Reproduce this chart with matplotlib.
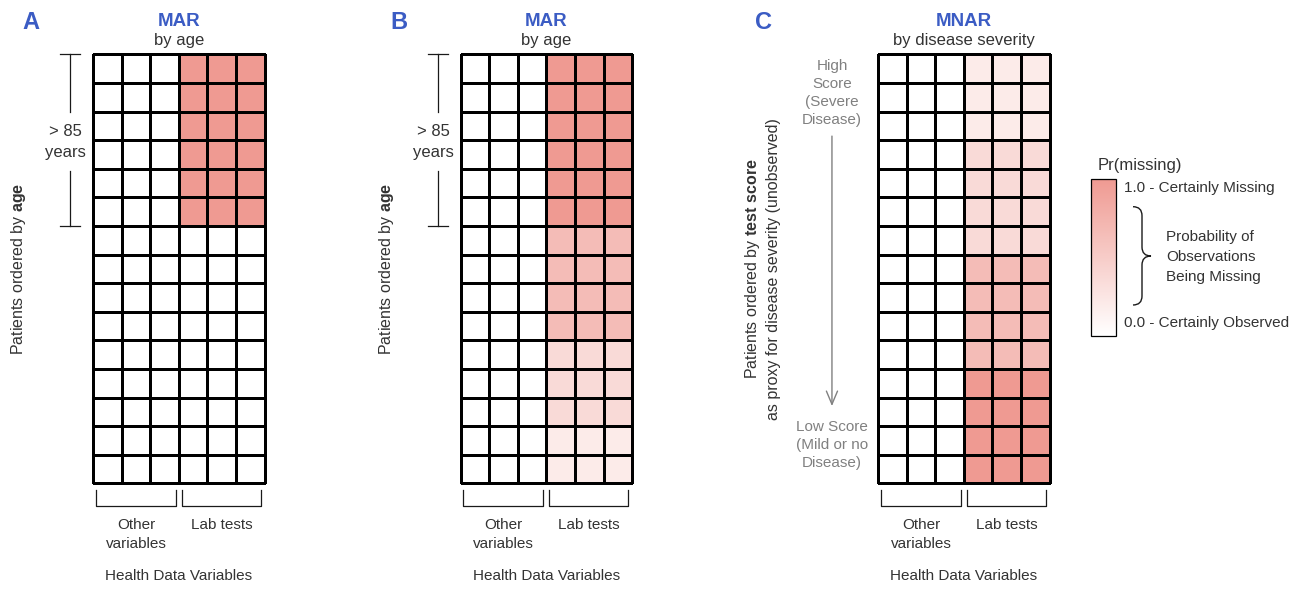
import numpy as np
import matplotlib
matplotlib.use("Agg")
import matplotlib.pyplot as plt
from matplotlib.colors import LinearSegmentedColormap, Normalize
from matplotlib.cm import ScalarMappable
from matplotlib.path import Path
from matplotlib.patches import PathPatch

# Pr(missing) of the lab-test columns, one value per patient row (top -> bottom)
pr_age_step = [1, 1, 1, 1, 1, 1, 0, 0, 0, 0, 0, 0, 0, 0, 0]
pr_age_graded = [1, 1, 1, 1, 1, 1, 0.66, 0.66, 0.66, 0.66, 0.37, 0.37, 0.37, 0.2, 0.2]
pr_severity = [0.2, 0.2, 0.2, 0.37, 0.37, 0.37, 0.37, 0.66, 0.66, 0.66, 0.66, 1, 1, 1, 1]
n_other = 3
n_lab = 3

panel_letters = ["A", "B", "C"]
panel_titles = ["MAR", "MAR", "MNAR"]
panel_subtitles = ["by age", "by age", "by disease severity"]
group_labels = ["Other\nvariables", "Lab tests"]
x_label = "Health Data Variables"
legend_title = "Pr(missing)"
legend_top = "1.0 - Certainly Missing"
legend_bottom = "0.0 - Certainly Observed"
legend_brace = "Probability of\nObservations\nBeing Missing"

plt.rcParams['font.family'] = ['Liberation Sans', 'DejaVu Sans']
plt.rcParams['mathtext.fontset'] = 'custom'
plt.rcParams['mathtext.rm'] = 'Liberation Sans'
plt.rcParams['mathtext.bf'] = 'Liberation Sans:bold'

W, H = 1304, 590
BLUE = '#3b5cc4'
TXT = '#333333'
GREY = '#808080'
LINE = '#1a1a1a'
cmap = LinearSegmentedColormap.from_list('prmiss', ['#ffffff', '#ef9a92'])

fig = plt.figure(figsize=(W / 100, H / 100), dpi=100)

# overlay in pixel units, for the legend annotations
lax = fig.add_axes([0, 0, 1, 1])
lax.set_xlim(0, W)
lax.set_ylim(H, 0)
lax.axis('off')


def px_axes(x, y, w, h):
    return fig.add_axes([x / W, 1 - (y + h) / H, w / W, h / H])


cell = 28.6
grid_x0 = [93, 460.5, 878]
grid_y0 = 54.3
series = [pr_age_step, pr_age_graded, pr_severity]
n_rows = len(pr_age_step)
n_cols = n_other + n_lab

for i in range(3):
    ax = px_axes(grid_x0[i], grid_y0, n_cols * cell, n_rows * cell)
    pr = np.array(series[i])
    vals = np.column_stack([np.zeros((n_rows, n_other)),
                            np.repeat(pr[:, None], n_lab, axis=1)])
    mesh = ax.pcolormesh(vals, cmap=cmap, vmin=0, vmax=1,
                         edgecolors='black', linewidth=0.75)
    mesh.set_clip_on(False)
    ax.set_xlim(0, n_cols)
    ax.set_ylim(n_rows, 0)
    ax.axis('off')

    lx = -2.17 if i < 2 else -4.01
    ax.text(lx, -0.87, panel_letters[i], ha='center', va='baseline',
            fontsize=17, fontweight='bold', color=BLUE)
    ax.text(n_cols / 2, -0.99, panel_titles[i], ha='center', va='baseline',
            fontsize=13.5, fontweight='bold', color=BLUE)
    ax.text(n_cols / 2, -0.325, panel_subtitles[i], ha='center', va='baseline',
            fontsize=12, color=TXT)

    # brackets under the columns
    for x0, x1 in [(0.1, n_other - 0.1), (n_other + 0.1, n_cols - 0.13)]:
        ax.plot([x0, x0, x1, x1], [15.23, 15.79, 15.79, 15.23],
                color=LINE, lw=0.9, clip_on=False)
    ax.text(n_other / 2, 16.22, group_labels[0], ha='center', va='top',
            fontsize=11, color=TXT, linespacing=1.45)
    ax.text(n_other + n_lab / 2, 16.22, group_labels[1], ha='center', va='top',
            fontsize=11, color=TXT)
    ax.text(n_cols / 2, 17.98, x_label, ha='center', va='top',
            fontsize=11, color=TXT)

    if i < 2:
        ax.plot([-0.8, -0.8], [0, 2.0], color=LINE, lw=0.9, clip_on=False)
        ax.plot([-0.8, -0.8], [4.07, 6], color=LINE, lw=0.9, clip_on=False)
        ax.plot([-1.15, -0.45], [0, 0], color=LINE, lw=0.9, clip_on=False)
        ax.plot([-1.15, -0.45], [6, 6], color=LINE, lw=0.9, clip_on=False)
        ax.text(-0.95, 3.08, "> 85\nyears", ha='center', va='center',
                fontsize=12, color=TXT, linespacing=1.5)
        ax.text(-2.59, n_rows / 2, r"Patients ordered by $\bf{age}$",
                rotation=90, ha='center', va='center', fontsize=11.5, color=TXT)
    else:
        ax.text(-4.06, n_rows / 2,
                "Patients ordered by $\\bf{test\\ score}$\n"
                "as proxy for disease severity (unobserved)",
                rotation=90, ha='center', va='center', fontsize=11.5,
                color=TXT, linespacing=1.3)
        ax.text(-1.61, 1.35, "High\nScore\n(Severe\nDisease)", ha='center',
                va='center', fontsize=11, color=GREY, linespacing=1.38)
        ax.text(-1.61, 13.65, "Low Score\n(Mild or no\nDisease)", ha='center',
                va='center', fontsize=11, color=GREY, linespacing=1.38)
        ax.annotate('', xy=(-1.61, 12.3), xytext=(-1.61, 2.86),
                    arrowprops=dict(arrowstyle='->,head_width=0.4,head_length=0.95',
                                    mutation_scale=10, color=GREY, lw=1.0,
                                    shrinkA=0, shrinkB=0),
                    annotation_clip=False)

# legend colour bar
cax = px_axes(1091, 179.3, 25, 156.4)
cb = fig.colorbar(ScalarMappable(norm=Normalize(0, 1), cmap=cmap), cax=cax)
cb.set_ticks([])
cb.outline.set_edgecolor('black')
cb.outline.set_linewidth(0.9)

lax.text(1098, 170, legend_title, ha='left', va='baseline', fontsize=12, color=TXT)
lax.text(1124, 192, legend_top, ha='left', va='baseline', fontsize=11, color=TXT)
lax.text(1124, 327.5, legend_bottom, ha='left', va='baseline', fontsize=11, color=TXT)

# curly brace
bx0, bxm, bx1 = 1133, 1142, 1151
by0, bym, by1 = 206.7, 256, 305
r = 9
verts = [(bx0, by0), (bxm, by0), (bxm, by0 + r),
         (bxm, bym - r), (bxm, bym), (bx1, bym),
         (bxm, bym), (bxm, bym + r),
         (bxm, by1 - r), (bxm, by1), (bx0, by1)]
codes = [Path.MOVETO, Path.CURVE3, Path.CURVE3,
         Path.LINETO, Path.CURVE3, Path.CURVE3,
         Path.CURVE3, Path.CURVE3,
         Path.LINETO, Path.CURVE3, Path.CURVE3]
lax.add_patch(PathPatch(Path(verts, codes), facecolor='none',
                        edgecolor=LINE, lw=1.0))
lax.text(1166, 257, legend_brace, ha='left', va='center', fontsize=11,
         color=TXT, linespacing=1.55)

fig.savefig('out.png', dpi=100)
